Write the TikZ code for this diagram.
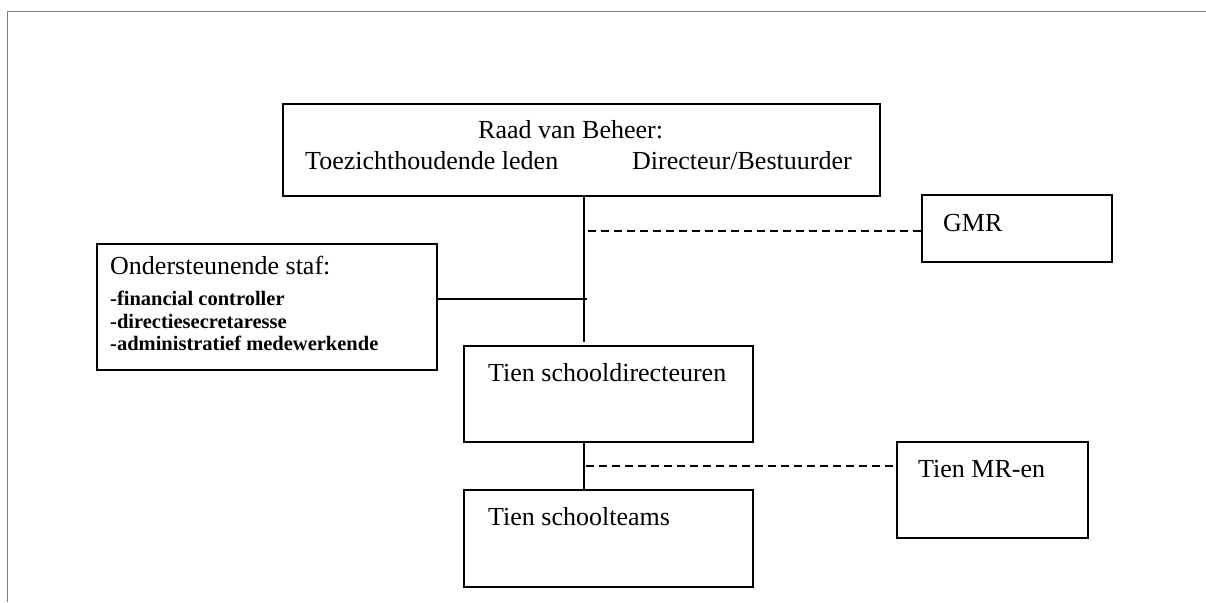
\documentclass[tikz,border=0pt]{standalone}
\usepackage{fontspec}
\setmainfont{Liberation Serif}
\begin{document}
\begin{tikzpicture}[x=1pt,y=-1pt,
  box/.style={draw, line width=1.8pt, fill=white, rectangle, inner sep=0pt, outer sep=0pt},
  lbl/.style={anchor=base west, inner sep=0pt, font=\fontsize{26}{30}\selectfont},
  sub/.style={anchor=base west, inner sep=0pt, font=\fontsize{20.5}{22}\selectfont\bfseries},
  link/.style={line width=1.5pt},
  dlink/.style={line width=1.5pt, dash pattern=on 8pt off 5pt},
  frame/.style={line width=1.5pt, draw=black!50}]
\useasboundingbox (0,0) rectangle (1206,602);
% frame lines
\coordinate (fc) at (7.5,11.5);
\coordinate (fr) at (1206,11.5);
\coordinate (fb) at (7.5,602);
\draw[frame] (fb) -- (fc) -- (fr);
% boxes
\node[box, minimum width=597pt, minimum height=92pt] (raad) at (581.5,150) {};
\node[box, minimum width=190pt, minimum height=67pt] (gmr) at (1017,228.5) {};
\node[box, minimum width=340pt, minimum height=126pt] (staf) at (267,307) {};
\node[box, minimum width=289pt, minimum height=96pt] (dir) at (608.5,394) {};
\node[box, minimum width=289pt, minimum height=97pt] (teams) at (608.5,538.5) {};
\node[box, minimum width=191pt, minimum height=96pt] (mr) at (992.5,490) {};
% texts
\node[lbl] (t1) at (478,138) {Raad van Beheer:};
\node[lbl] (t2) at (305,169) {Toezichthoudende leden};
\node[lbl] (t3) at (632,169) {Directeur/Bestuurder};
\node[lbl] (t4) at (943,231) {GMR};
\node[lbl] (t5) at (110,274) {Ondersteunende staf:};
\node[sub] (t6) at (110,305) {-financial controller};
\node[sub] (t7) at (110,328) {-directiesecretaresse};
\node[sub] (t8) at (110,350) {-administratief medewerkende};
\node[lbl] (t9) at (488,381) {Tien schooldirecteuren};
\node[lbl] (t10) at (488,525) {Tien schoolteams};
\node[lbl] (t11) at (918,477) {Tien MR-en};
% connectors
\coordinate (spine) at (584,0);
\coordinate (j1) at (587,299);
\coordinate (d1) at (588,231);
\coordinate (d2) at (586,466);
\draw[link] (raad.south -| spine) -- ([yshift=4pt]dir.north -| spine);
\draw[link] (staf.east |- j1) -- (j1);
\draw[dlink] (d1) -- (gmr.west |- d1);
\draw[link] (dir.south -| spine) -- (teams.north -| spine);
\draw[dlink] (d2) -- (mr.west |- d2);
\end{tikzpicture}
\end{document}
